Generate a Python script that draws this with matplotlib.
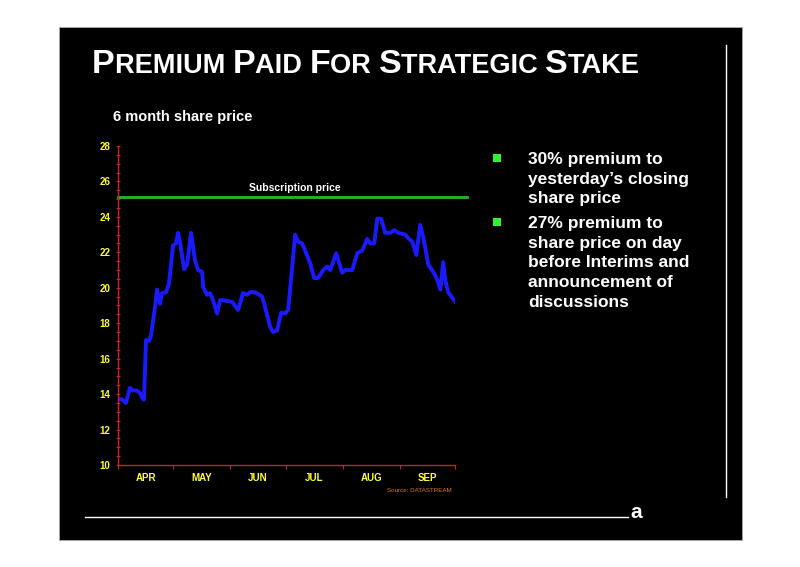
import matplotlib
matplotlib.use("Agg")
import matplotlib.pyplot as plt
from matplotlib import font_manager
from matplotlib.offsetbox import TextArea, HPacker, AnnotationBbox
from matplotlib.patches import Rectangle
from matplotlib.lines import Line2D

# ---- data ----
days = [0, 2.2, 4.3, 6.5, 8.2, 10.3, 12, 13.6, 14.1, 15.2, 16.8, 17.9, 20.1, 21.2, 22.8, 23.9,
        26.1, 27.7, 29.9, 31.5, 32.6, 33.7, 35.9, 37.5, 39.7, 41.8, 43.5, 45.7, 46.2, 48.4, 50,
        51.6, 53.8, 55.4, 57.1, 62, 65.2, 67.9, 70.1, 71.7, 74.5, 78.3, 79.9, 82.6, 84.2, 86.4,
        88.6, 90.8, 92.4, 94.6, 96.2, 97.8, 100, 101.6, 104.3, 106.5, 108.7, 111.4, 113.6,
        115.2, 118.5, 121.7, 123.4, 127.2, 129.9, 132.6, 135.3, 137, 139.1, 140.8, 142.9,
        145.1, 147.8, 150, 152.2, 156, 157.6, 159.8, 162, 164.1, 165.8, 168.5, 171.2, 173.4,
        175, 176.6, 177.7, 179.3, 183.2]
price = [13.72, 13.7, 13.5, 14.35, 14.2, 14.2, 14.05, 13.7, 13.7, 17.05, 17.0, 17.3, 18.9, 19.9,
         19.1, 19.7, 19.75, 20.25, 22.4, 22.5, 23.1, 22.55, 21.05, 21.3, 23.1, 21.55, 21.0,
         20.9, 20.05, 19.6, 19.7, 19.3, 18.55, 19.3, 19.3, 19.2, 18.75, 19.7, 19.6, 19.75,
         19.75, 19.5, 18.9, 17.8, 17.5, 17.6, 18.6, 18.55, 18.75, 21.2, 23.0, 22.6, 22.5, 22.1,
         21.4, 20.55, 20.55, 21.0, 21.2, 21.0, 21.95, 20.85, 21.0, 21.0, 21.95, 22.1, 22.75,
         22.5, 22.5, 23.9, 23.9, 23.1, 23.1, 23.25, 23.1, 23.0, 22.8, 22.6, 21.85, 23.55, 22.85,
         21.3, 20.9, 20.45, 19.9, 21.45, 20.45, 19.75, 19.2]
month_bounds = [0, 30, 61, 91, 122, 153, 183]
month_labels = ["APR", "MAY", "JUN", "JUL", "AUG", "SEP"]
subscription_price = 25.1
y_ticks = [10, 12, 14, 16, 18, 20, 22, 24, 26, 28]
title_parts = [("P", True), ("REMIUM ", False), ("P", True), ("AID ", False), ("F", True),
               ("OR ", False), ("S", True), ("TRATEGIC ", False), ("S", True), ("TAKE", False)]
bullets = ["30% premium to\nyesterday\u2019s closing\nshare price",
           "27% premium to\nshare price on day\nbefore Interims and\nannouncement of\ndiscussions"]

W, H = 800, 567
fig = plt.figure(figsize=(8, 5.67), dpi=100, facecolor="white")
FONT = "Liberation Sans"

names = {f.name for f in font_manager.fontManager.ttflist}
if "Liberation Sans Narrow" in names:
    TFONT, BIG, SMALL = "Liberation Sans Narrow", 29, 23.5
else:
    TFONT, BIG, SMALL = FONT, 24.5, 19.5

def fx(px): return px / W
def fy(py): return 1 - py / H

# black slide background
fig.patches.append(Rectangle((fx(59), fy(540)), fx(742) - fx(59), fy(27) - fy(540),
                             transform=fig.transFigure, facecolor="black", edgecolor="#aaaaaa",
                             lw=0.6, zorder=-5))
# decorative lines
fig.lines.append(Line2D([fx(726), fx(726)], [fy(45), fy(497)], transform=fig.transFigure,
                        color="white", lw=1.0))
fig.lines.append(Line2D([fx(85), fx(628)], [fy(517), fy(517)], transform=fig.transFigure,
                        color="white", lw=1.0))
fig.text(fx(630), fy(518), "a", color="white", fontsize=15, fontweight="bold",
         family=FONT, ha="left", va="baseline")

# title with small caps
areas = []
for t, big in title_parts:
    areas.append(TextArea(t, textprops=dict(color="white", fontsize=BIG if big else SMALL,
                                            fontweight="bold", family=TFONT)))
box = HPacker(children=areas, align="baseline", pad=0, sep=0)
ab = AnnotationBbox(box, (fx(92), fy(77)), xycoords="figure fraction", box_alignment=(0, 0.1),
                    frameon=False, pad=0)
fig.add_artist(ab)

fig.text(fx(113), fy(117), "6 month share price", color="white", fontsize=10.5,
         fontweight="bold", family=FONT, ha="left", va="center")

# axes
ax = fig.add_axes([fx(118), fy(465), fx(455) - fx(118), fy(146) - fy(465)], zorder=2)
ax.set_facecolor("black")
ax.plot(days, price, color="#1a1aff", lw=2.8, solid_joinstyle="round")
ax.axhline(subscription_price, xmin=0, xmax=1.035, color="#22bb22", lw=2.0, clip_on=False)
ax.text(96, subscription_price + 0.25, "Subscription price", color="white", fontsize=7.5,
        fontweight="bold", family=FONT, ha="center", va="bottom")
ax.set_xlim(0, 183)
ax.set_ylim(10, 28)
for s in ["top", "right"]:
    ax.spines[s].set_visible(False)
for s in ["left", "bottom"]:
    ax.spines[s].set_color("#cc2222")
    ax.spines[s].set_linewidth(1.0)
ax.set_yticks(y_ticks)
ax.set_yticks([v / 2 for v in range(20, 57)], minor=True)
ax.set_yticklabels([str(v) for v in y_ticks], color="#ffff33", fontsize=7, fontweight="bold",
                   family=FONT)
ax.tick_params(axis="y", which="both", colors="#cc2222", direction="inout", length=3, width=0.8,
               labelcolor="#ffff33", pad=4)
ax.set_xticks(month_bounds)
ax.set_xticklabels([])
ax.tick_params(axis="x", which="major", colors="#cc2222", direction="out", length=3, width=0.8)
centers = [(month_bounds[i] + month_bounds[i + 1]) / 2 for i in range(len(month_labels))]
ax.set_xticks(centers, minor=True)
ax.set_xticklabels(month_labels, minor=True, color="#ffff33", fontsize=7, fontweight="bold",
                   family=FONT)
ax.tick_params(axis="x", which="minor", length=0, pad=6, labelcolor="#ffff33")

fig.text(fx(452), fy(490), "Source: DATASTREAM", color="#dd7711", fontsize=4.5, family=FONT,
         ha="right", va="center")

# bullets
ys = [158, 222]
for yb, txt in zip(ys, bullets):
    fig.patches.append(Rectangle((fx(493), fy(yb + 4)), fx(8), fy(0) - fy(8),
                                 transform=fig.transFigure, facecolor="#33ee33",
                                 edgecolor="none"))
    fig.text(fx(528), fy(yb - 6), txt, color="white", fontsize=12.5, fontweight="bold",
             family=FONT, ha="left", va="top", linespacing=1.39)

fig.savefig("out.png", dpi=100, facecolor="white")
